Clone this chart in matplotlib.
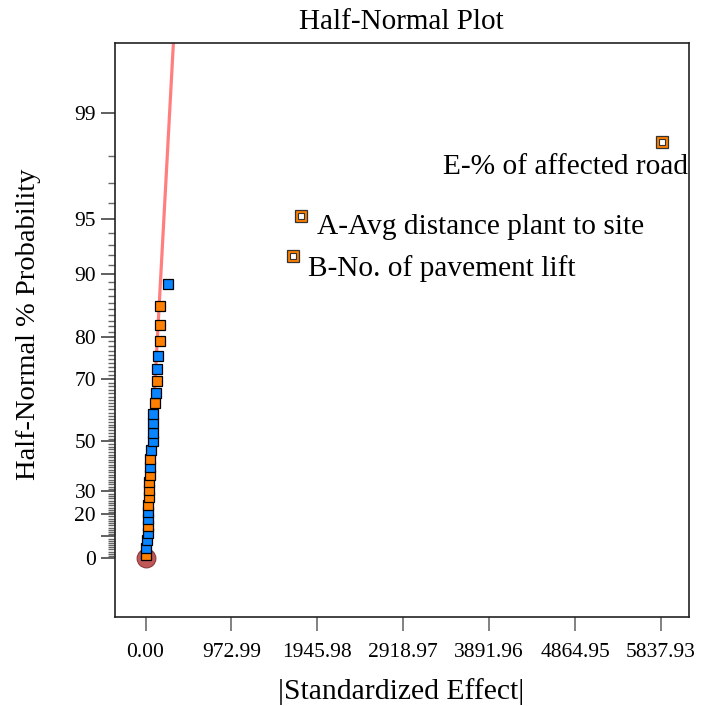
import numpy as np
import matplotlib.pyplot as plt
from statistics import NormalDist

plt.rcParams['font.family'] = ['Liberation Serif', 'DejaVu Serif']

# Half-normal percent probability of each effect (bottom to top)
probs = [1.6, 4.8, 8.1, 11.3, 14.5, 17.7, 21.0, 24.2, 27.4, 30.6, 33.9, 37.1, 40.3, 43.5,
         46.8, 50.0, 53.2, 56.5, 59.7, 62.9, 66.1, 69.4, 72.6, 75.8, 79.0, 82.3, 85.5, 88.7]
# |standardized effect|
effects = [6, 6, 17, 25, 28, 28, 28, 33, 36, 40, 40, 48, 48, 51,
           62, 82, 85, 90, 90, 108, 119, 127, 130, 142, 161, 169, 169, 260]
# sign of effect: '+' orange, '-' blue
signs = ['+', '-', '-', '-', '+', '-', '-', '+', '+', '+', '+', '+', '-', '+',
         '-', '-', '-', '-', '-', '+', '-', '+', '-', '-', '+', '+', '+', '-']

# labelled (significant) terms
term_names = ['B-No. of pavement lift', 'A-Avg distance plant to site', 'E-% of affected road']
term_effects = [1668, 1765, 5851]
term_probs = [91.9, 95.2, 98.4]

line_slope = 106  # effect per unit half-normal quantile (fitted line)

x_ticks = [0.00, 972.99, 1945.98, 2918.97, 3891.96, 4864.95, 5837.93]
y_major = [0, 10, 20, 30, 50, 70, 80, 90, 95, 99]
y_labels = ['0', '', '20', '30', '50', '70', '80', '90', '95', '99']

ORANGE = '#FF8000'
BLUE = '#0A84FF'

nd = NormalDist()


def hq(p):
    # half-normal quantile for a percent probability
    if np.ndim(p) == 0:
        return nd.inv_cdf((1 + p / 100.0) / 2)
    return np.array([nd.inv_cdf((1 + v / 100.0) / 2) for v in p])


fig = plt.figure(figsize=(7.05, 7.06), dpi=100)
ax = fig.add_axes([0.1638, 0.1261, 0.8135, 0.813])

# fitted line through origin
qq = np.array([0, 3.2])
ax.plot(qq * line_slope, qq, color='#FF7F7F', lw=2.3, zorder=2)

# origin marker
ax.plot([0], [0], 'o', ms=13.5, color='#C05858', mec='#8A3A3A', mew=0.8, zorder=3)

for e, p, s in zip(effects, probs, signs):
    ax.plot(e, hq(p), 's', ms=7.6, color=ORANGE if s == '+' else BLUE,
            mec='black', mew=0.9, zorder=4)

offsets = [(15, -12, 'left'), (16, -11, 'left'), (26, -25, 'right')]
for name, e, p, off in zip(term_names, term_effects, term_probs, offsets):
    q = hq(p)
    ax.plot(e, q, 's', ms=8.5, color=ORANGE, mec='#333333', mew=0.9, zorder=4)
    ax.plot(e, q, 's', ms=4.2, color='white', mec='#333333', mew=0.8, zorder=5)
    ax.annotate(name, (e, q), xytext=off[:2], textcoords='offset pixels',
                ha=off[2], va='center', fontsize=21.2)

ax.set_xlim(-340, 6155)
ax.set_ylim(-0.341, 2.98)

ax.set_xticks(x_ticks)
ax.set_xticklabels(['%.2f' % v for v in x_ticks])
ax.set_yticks(hq(y_major))
ax.set_yticklabels(y_labels)
minor = [v for v in range(1, 99) if v not in y_major]
ax.set_yticks(hq(minor), minor=True)

ax.tick_params(axis='x', direction='out', length=10, width=1.3, color='#777777',
               labelsize=15.5, pad=9)
ax.tick_params(axis='y', which='major', direction='out', length=10, width=1.2,
               color='#444444', labelsize=15.5, pad=4)
ax.tick_params(axis='y', which='minor', direction='out', length=5, width=1.0,
               color='#666666')
for sp in ax.spines.values():
    sp.set_linewidth(1.2)
    sp.set_color('#222222')

fig.text(0.569, 0.969, 'Half-Normal Plot', ha='center', va='center', fontsize=21)
fig.text(0.569, 0.021, '|Standardized Effect|', ha='center', va='center', fontsize=21.3)
fig.text(0.040, 0.54, 'Half-Normal % Probability', ha='center', va='center',
         rotation=90, fontsize=20.5)

fig.savefig('out.png', dpi=100)
